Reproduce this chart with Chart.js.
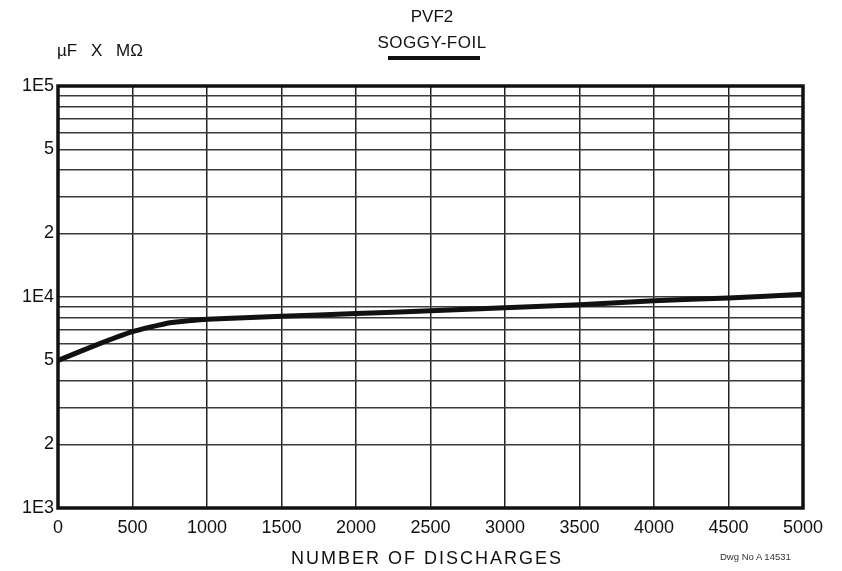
<!DOCTYPE html>
<html>
<head>
<meta charset="utf-8">
<script src="https://cdn.jsdelivr.net/npm/chart.js@4.4.1/dist/chart.umd.min.js"></script>
<style>
    html, body { margin: 0; padding: 0; background: #fff; }
    #wrap { position: relative; width: 842px; height: 571px; font-family: "Liberation Sans", Arial, sans-serif; color: #111; }
    #chart { position: absolute; left: 0; top: 0; }
    .lbl { position: absolute; white-space: nowrap; }
</style>
</head>
<body>
<div id="wrap">
    <canvas id="chart" width="842" height="571"></canvas>
    <div class="lbl" style="left:385px; top:7px; width:94px; text-align:center; font-size:17px;">PVF2</div>
    <div class="lbl" style="left:360px; top:33px; width:144px; text-align:center; font-size:17px; letter-spacing:0.5px;">SOGGY-FOIL</div>
    <div class="lbl" style="left:388px; top:56px; width:92px; height:4px; background:#111;"></div>
    <div class="lbl" style="left:57px; top:41px; font-size:17px; word-spacing:9px;">µF X MΩ</div>
    <div class="lbl" style="left:262px; top:548px; width:330px; text-align:center; font-size:18px; letter-spacing:2px;">NUMBER OF DISCHARGES</div>
    <div class="lbl" style="left:720px; top:551px; font-size:9.5px; color:#333;">Dwg No A 14531</div>
</div>
<script>
// discharges vs. capacitance x resistance
const discharges = [0, 250, 500, 750, 1000, 1500, 2000, 2500, 3000, 3500, 4000, 4500, 5000];
const ufMohm = [5000, 5900, 6850, 7550, 7850, 8100, 8350, 8600, 8900, 9200, 9600, 9900, 10300];

const yGridValues = [1000, 2000, 3000, 4000, 5000, 6000, 7000, 8000, 9000,
    10000, 20000, 30000, 40000, 50000, 60000, 70000, 80000, 90000, 100000];
const yLabelValues = [1000, 2000, 5000, 10000, 20000, 50000, 100000];
const yLabelTexts = ['1E3', '2', '5', '1E4', '2', '5', '1E5'];

const frame = {
    id: 'frame',
    afterDatasetsDraw(chart) {
        const a = chart.chartArea;
        const ctx = chart.ctx;
        ctx.save();
        ctx.strokeStyle = '#111';
        ctx.lineWidth = 3.5;
        ctx.strokeRect(a.left, a.top, a.right - a.left, a.bottom - a.top);
        ctx.restore();
    }
};

const ctx = document.getElementById('chart').getContext('2d');
new Chart(ctx, {
    type: 'line',
    data: {
        datasets: [{
            data: discharges.map((d, i) => ({ x: d, y: ufMohm[i] })),
            borderColor: '#111',
            borderWidth: 5,
            pointRadius: 0,
            tension: 0.15,
            fill: false
        }]
    },
    options: {
        responsive: false,
        animation: false,
        layout: { padding: { top: 86, right: 39, left: 0, bottom: 0 } },
        plugins: { legend: { display: false }, tooltip: { enabled: false } },
        scales: {
            x: {
                type: 'linear',
                min: 0,
                max: 5000,
                afterFit: s => { s.height = 63; },
                ticks: {
                    stepSize: 500,
                    color: '#111',
                    padding: 9,
                    maxRotation: 0,
                    font: { family: 'Liberation Sans', size: 18 },
                    callback: v => String(v)
                },
                grid: { color: '#222', lineWidth: 1.5, drawTicks: false },
                border: { display: false }
            },
            y: {
                type: 'logarithmic',
                min: 1000,
                max: 100000,
                afterFit: s => { s.width = 58; },
                afterBuildTicks: s => { s.ticks = yGridValues.map(v => ({ value: v })); },
                ticks: {
                    color: '#111',
                    padding: 4,
                    autoSkip: false,
                    font: { family: 'Liberation Sans', size: 18 },
                    callback: v => {
                        const i = yLabelValues.indexOf(v);
                        return i >= 0 ? yLabelTexts[i] : '';
                    }
                },
                grid: { color: '#3a3a3a', lineWidth: 1.5, drawTicks: false },
                border: { display: false }
            }
        }
    },
    plugins: [frame]
});
</script>
</body>
</html>
